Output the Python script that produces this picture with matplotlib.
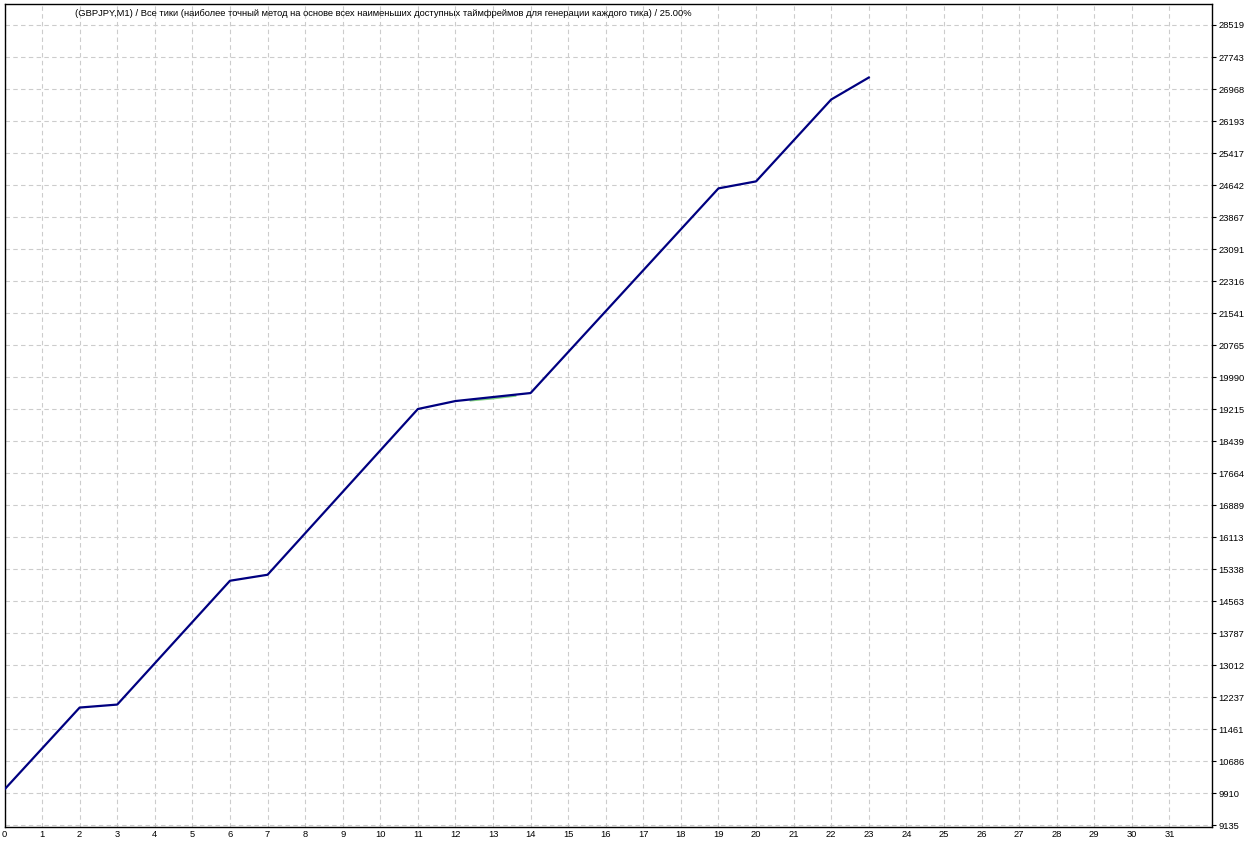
import matplotlib
matplotlib.use('Agg')
import matplotlib.pyplot as plt

plt.rcParams['font.family'] = ['Liberation Sans', 'DejaVu Sans']

# balance curve (trade number -> balance)
trades = [0, 2, 3, 6, 7, 11, 12, 14, 19, 20, 22, 23]
balance = [10005, 11988, 12060, 15059, 15204, 19218, 19411, 19605, 24562, 24731, 26714, 27246]

# equity dips slightly under balance between trades 12 and 14
equity_x = [12.4, 13.0, 13.6]
equity_y = [19420, 19470, 19535]

x_ticks = list(range(0, 32))
y_ticks = [9135, 9910, 10686, 11461, 12237, 13012, 13787, 14563, 15338, 16113,
           16889, 17664, 18439, 19215, 19990, 20765, 21541, 22316, 23091, 23867,
           24642, 25417, 26193, 26968, 27743, 28519]

title = ('(GBPJPY,M1) / Все тики (наиболее точный метод на основе всех наименьших '
         'доступных таймфреймов для генерации каждого тика) / 25.00%')

W, H = 1256, 844
fig = plt.figure(figsize=(W / 100, H / 100), dpi=100)
left, right, top, bottom = 4.5, 1211.5, 4, 827
ax = fig.add_axes([left / W, 1 - bottom / H, (right - left) / W, (bottom - top) / H])

ax.plot(equity_x, equity_y, color='#7fd07f', linewidth=1.2, zorder=2)
ax.plot(trades, balance, color='#000080', linewidth=1.6, zorder=3)

ax.set_xlim(0, 32.12)
ax.set_ylim(9135 - 40, 29027)

ax.set_xticks(x_ticks)
ax.set_xticklabels([str(t) for t in x_ticks])
ax.set_yticks(y_ticks)
ax.set_yticklabels([str(t) for t in y_ticks])

ax.yaxis.tick_right()
ax.tick_params(axis='y', direction='out', length=3, width=0.8, pad=2,
               labelsize=6.75, colors='black')
ax.tick_params(axis='x', length=0, pad=2.5, labelsize=6.75)

ax.grid(True, color='#cccccc', linestyle=(0, (4, 3)), linewidth=0.8)
ax.set_axisbelow(True)
for s in ax.spines.values():
    s.set_color('black')
    s.set_linewidth(1.0)

fig.text(75 / W, 1 - 13 / H, title, fontsize=6.75, va='center', ha='left',
         color='black')

fig.savefig('out.png', dpi=100, facecolor='white')
